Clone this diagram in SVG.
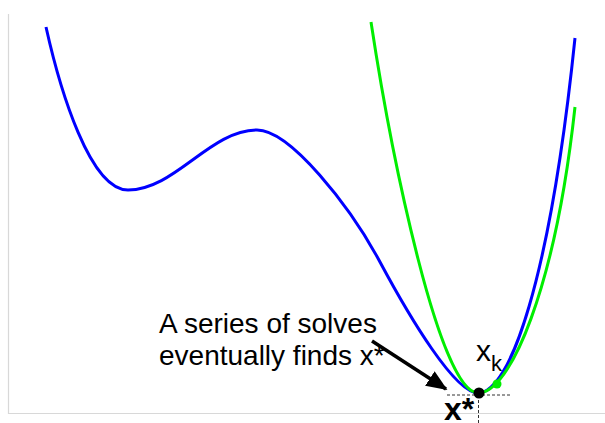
<svg xmlns="http://www.w3.org/2000/svg" width="605" height="423" viewBox="0 0 605 423">
<style>
.curve{fill:none;stroke-width:3;stroke-linecap:butt}
.blue{stroke:#0000ff}
.green{stroke:#00ee00}
.dash{stroke:#333;stroke-width:1;stroke-dasharray:3 2;fill:none}
.frame{stroke:#d8d8d8;stroke-width:1.2;fill:none}
.lbl{font-family:"Liberation Sans",Arial,sans-serif;fill:#000}
</style>
<defs>
<marker id="ah" markerWidth="6" markerHeight="5" refX="5.5" refY="2.5" orient="auto" markerUnits="strokeWidth">
<path d="M0,0 L6,2.5 L0,5 Z" fill="#000"/>
</marker>
</defs>
<rect width="605" height="423" fill="#fff"/>
<path class="frame" d="M8.5,14 V413.5 H605"/>
<g id="curves">
<path id="blue-curve" class="curve blue" d="M46,27 C60,90 90,190 128,190 C175,190 210,130 257,130 C290,130 350,206 380,262 C410,318 455,393 478,393 C510,393 550,280 575,38"/>
<path id="green-curve" class="curve green" d="M371,22 C392,160 440,393 478,393 C510,393 555,290 575,107"/>
</g>
<g id="guides">
<path class="dash" d="M447,395 H510"/>
<path class="dash" d="M478.5,395 V423"/>
</g>
<g id="connectors">
<path d="M372,341 L446,389" stroke="#000" stroke-width="3.5" fill="none" marker-end="url(#ah)"/>
</g>
<g id="xstar-point">
<circle cx="479" cy="393" r="5.5" fill="#000"/>
<text class="lbl" x="444" y="420" font-size="32" font-weight="bold">x*</text>
</g>
<g id="xk-point">
<circle cx="497" cy="384" r="4.5" fill="#00ee00"/>
<text class="lbl" x="476" y="361" font-size="30">x<tspan font-size="22" dy="10">k</tspan></text>
</g>
<g id="note">
<text class="lbl" x="159" y="333" font-size="28">A series of solves</text>
<text class="lbl" x="159" y="365" font-size="28">eventually finds x*</text>
</g>
</svg>
